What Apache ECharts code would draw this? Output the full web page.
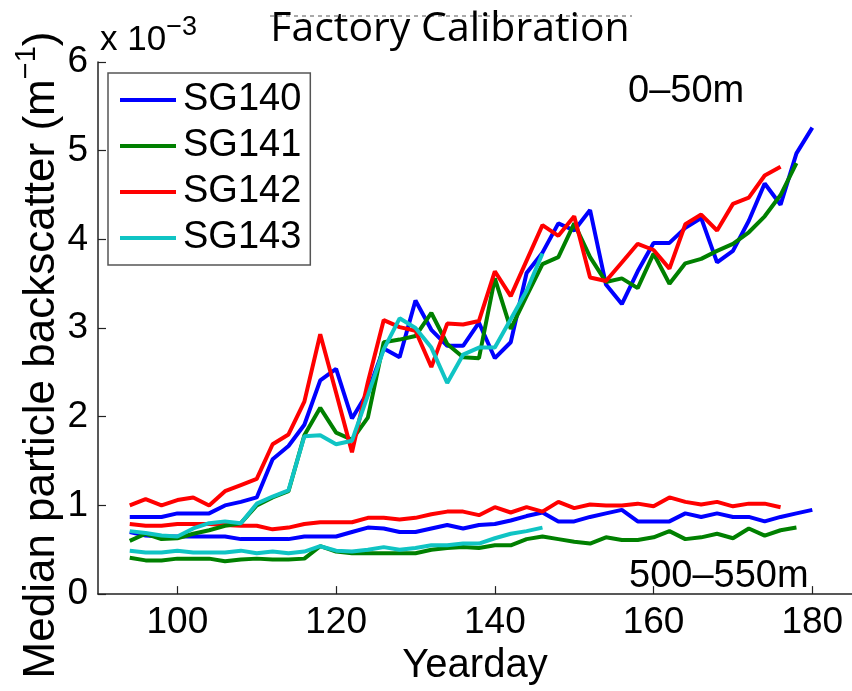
<!DOCTYPE html>
<html>
<head>
<meta charset="utf-8">
<script src="https://cdn.jsdelivr.net/npm/echarts@6/dist/echarts.min.js"></script>
<style>html,body{margin:0;padding:0;background:#fff;}#chart{width:852px;height:691px;}</style>
</head>
<body>
<div id="chart"></div>
<script>
// ---- data (values in units of 1e-3 m^-1) ----
const daysTo180 = [94,96,98,100,102,104,106,108,110,112,114,116,118,120,122,124,126,128,130,132,134,136,138,140,142,144,146,148,150,152,154,156,158,160,162,164,166,168,170,172,174,176,178,180];
const daysTo178 = [94,96,98,100,102,104,106,108,110,112,114,116,118,120,122,124,126,128,130,132,134,136,138,140,142,144,146,148,150,152,154,156,158,160,162,164,166,168,170,172,174,176,178];
const daysTo176 = [94,96,98,100,102,104,106,108,110,112,114,116,118,120,122,124,126,128,130,132,134,136,138,140,142,144,146,148,150,152,154,156,158,160,162,164,166,168,170,172,174,176];
const daysTo146 = [94,96,98,100,102,104,106,108,110,112,114,116,118,120,122,124,126,128,130,132,134,136,138,140,142,144,146];

const names = ['SG140','SG141','SG142','SG143'];
const colors = ['#0000FF','#008000','#FF0000','#10C4C4'];

// 0-50 m
const sg140Surface = [0.87,0.87,0.87,0.91,0.91,0.91,1.00,1.04,1.09,1.52,1.67,1.91,2.41,2.54,1.98,2.28,2.77,2.67,3.31,2.98,2.80,2.80,3.06,2.66,2.84,3.62,3.85,4.18,4.10,4.33,3.49,3.27,3.64,3.96,3.96,4.13,4.24,3.74,3.87,4.21,4.63,4.39,4.97,5.26];
const sg141Surface = [0.60,0.68,0.62,0.63,0.68,0.72,0.77,0.80,1.00,1.09,1.16,1.79,2.10,1.82,1.74,1.99,2.84,2.87,2.91,3.17,2.82,2.67,2.66,3.56,2.99,3.36,3.72,3.80,4.18,3.80,3.52,3.56,3.45,3.84,3.50,3.73,3.78,3.87,3.95,4.08,4.26,4.50,4.86];
const sg142Surface = [1.00,1.07,1.00,1.06,1.09,1.00,1.16,1.23,1.30,1.69,1.80,2.17,2.93,2.27,1.60,2.39,3.09,3.01,2.97,2.56,3.05,3.04,3.08,3.64,3.36,3.76,4.16,4.04,4.26,3.57,3.53,3.74,3.95,3.88,3.67,4.17,4.28,4.10,4.40,4.47,4.72,4.82];
const sg143Surface = [0.71,0.69,0.66,0.65,0.74,0.80,0.82,0.80,1.02,1.10,1.17,1.78,1.79,1.69,1.73,2.24,2.76,3.11,3.00,2.78,2.38,2.70,2.78,2.78,3.10,3.42,3.84];

// 500-550 m
const sg140Deep = [0.70,0.66,0.65,0.65,0.65,0.65,0.65,0.62,0.62,0.62,0.62,0.65,0.65,0.65,0.70,0.75,0.74,0.70,0.70,0.74,0.78,0.74,0.78,0.79,0.83,0.88,0.92,0.82,0.82,0.87,0.91,0.95,0.82,0.82,0.82,0.91,0.87,0.91,0.87,0.87,0.82,0.87,0.91,0.95];
const sg141Deep = [0.41,0.38,0.38,0.40,0.40,0.40,0.37,0.39,0.40,0.39,0.39,0.40,0.54,0.48,0.46,0.46,0.46,0.46,0.46,0.50,0.52,0.53,0.52,0.55,0.55,0.62,0.65,0.62,0.59,0.57,0.64,0.61,0.61,0.64,0.71,0.62,0.64,0.68,0.63,0.74,0.66,0.72,0.75];
const sg142Deep = [0.79,0.77,0.77,0.79,0.79,0.79,0.78,0.77,0.77,0.73,0.75,0.79,0.81,0.81,0.81,0.86,0.86,0.84,0.86,0.90,0.93,0.93,0.89,0.98,0.92,0.98,0.93,1.04,0.97,1.01,1.00,1.00,1.02,0.99,1.09,1.04,1.01,1.04,0.99,1.02,1.02,0.98];
const sg143Deep = [0.49,0.47,0.47,0.49,0.47,0.47,0.47,0.49,0.46,0.48,0.46,0.48,0.54,0.49,0.48,0.50,0.53,0.50,0.52,0.55,0.55,0.57,0.57,0.63,0.68,0.71,0.75];

const xTicks = [100,120,140,160,180];
const yTicks = [0,1,2,3,4,5,6];

const FONT = '"Liberation Sans", Arial, Helvetica, sans-serif';

function pairs(days, vals){ return days.map((d,i)=>[d, vals[i]]); }
function line(name, color, days, vals){
  return { name, type:'line', data: pairs(days, vals), symbol:'none', showSymbol:false,
    lineStyle:{ color, width:4 }, itemStyle:{ color }, animation:false, z:2 };
}

const series = [
  line(names[0], colors[0], daysTo180, sg140Deep),
  line(names[1], colors[1], daysTo178, sg141Deep),
  line(names[2], colors[2], daysTo176, sg142Deep),
  line(names[3], colors[3], daysTo146, sg143Deep),
  line(names[0], colors[0], daysTo180, sg140Surface),
  line(names[1], colors[1], daysTo178, sg141Surface),
  line(names[2], colors[2], daysTo176, sg142Surface),
  line(names[3], colors[3], daysTo146, sg143Surface)
];

const chart = echarts.init(document.getElementById('chart'), null, { renderer:'canvas' });
chart.setOption({
  backgroundColor:'#fff',
  animation:false,
  grid:{ left:98, top:62, right:-4, bottom:89, containLabel:false },
  xAxis:{
    type:'value', min:90, max:185,
    axisLine:{ show:true, onZero:false, lineStyle:{ color:'#222', width:1.5 } },
    axisTick:{ show:true, inside:true, length:8, customValues:xTicks, lineStyle:{ color:'#222', width:1.2 } },
    axisLabel:{ customValues:xTicks, fontSize:37, fontFamily:FONT, color:'#000', margin:10 },
    splitLine:{ show:false },
    name:'Yearday', nameLocation:'middle', nameGap:49,
    nameTextStyle:{ fontSize:40, fontFamily:FONT, color:'#000' }
  },
  yAxis:{
    type:'value', min:0, max:6, interval:1,
    axisLine:{ show:true, lineStyle:{ color:'#222', width:1.5 } },
    axisTick:{ show:true, inside:true, length:8, lineStyle:{ color:'#222', width:1.2 } },
    axisLabel:{ fontSize:37, fontFamily:FONT, color:'#000', margin:10,
      formatter:(v)=> yTicks.includes(v) ? String(v) : '' },
    splitLine:{ show:false }
  },
  legend:{
    data:names, orient:'vertical', left:108, top:73, icon:'rect',
    padding:[7,9,7,12], itemGap:6, itemWidth:56, itemHeight:4,
    borderColor:'#555', borderWidth:1.5, backgroundColor:'#fff',
    textStyle:{ fontSize:38, fontFamily:FONT, color:'#000', lineHeight:40, padding:[0,0,0,2] }
  },
  graphic:[
    { type:'line', shape:{ x1:270, y1:16, x2:632, y2:16 }, style:{ stroke:'#555', lineWidth:1, lineDash:[4,4] }, z:0 },
    { type:'text', x:450, y:29, style:{ text:'Factory Calibration', font:'41px "Open Sans", sans-serif', fill:'#000', align:'center', verticalAlign:'middle', textAlign:'center', textVerticalAlign:'middle' }, z:5 },
    { type:'text', x:100, y:58, style:{ text:'{a|x 10}{s|−3}', verticalAlign:'bottom', textVerticalAlign:'bottom', align:'left',
        rich:{ a:{ fontSize:35, fontFamily:FONT, fill:'#000', color:'#000', lineHeight:44, verticalAlign:'bottom' }, s:{ fontSize:27, fontFamily:FONT, color:'#000', fill:'#000', lineHeight:44, verticalAlign:'top' } } }, z:5 },
    { type:'text', x:38, y:355, rotation:Math.PI/2, style:{ text:'{a|Median particle backscatter (m}{s|−1}{a|)}', align:'center', verticalAlign:'middle', textAlign:'center', textVerticalAlign:'middle',
        rich:{ a:{ fontSize:44, fontFamily:FONT, color:'#000', fill:'#000', lineHeight:52, verticalAlign:'bottom' }, s:{ fontSize:29, fontFamily:FONT, color:'#000', fill:'#000', lineHeight:52, verticalAlign:'top' } } }, z:5 },
    { type:'text', x:628, y:92, style:{ text:'0–50m', font:'38px "Liberation Sans", Arial, sans-serif', fill:'#000', align:'left', verticalAlign:'middle', textAlign:'left', textVerticalAlign:'middle' }, z:5 },
    { type:'text', x:629, y:577, style:{ text:'500–550m', font:'38px "Liberation Sans", Arial, sans-serif', fill:'#000', align:'left', verticalAlign:'middle', textAlign:'left', textVerticalAlign:'middle' }, z:5 }
  ],
  series
});
</script>
</body>
</html>
